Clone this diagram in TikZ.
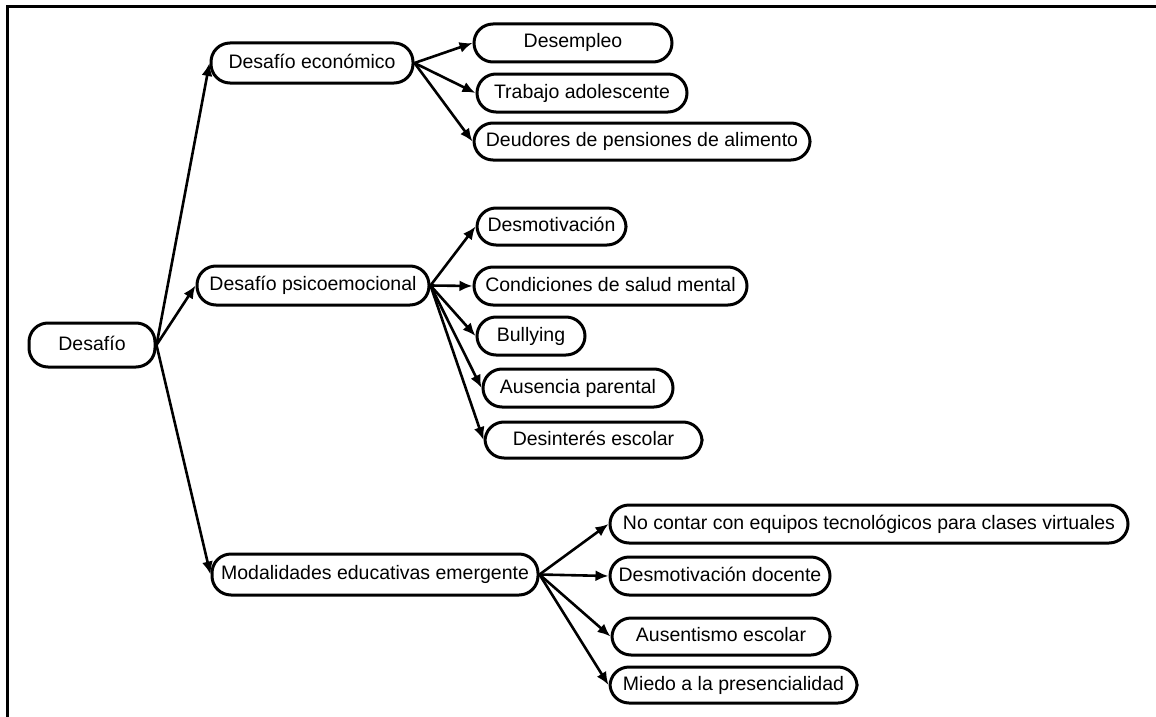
\documentclass[tikz,border=0pt]{standalone}
\usepackage{fontspec}
\setmainfont{Liberation Sans}
\usetikzlibrary{arrows.meta}
\tikzset{
  box/.style={draw, line width=3pt, rounded corners=19pt, minimum height=39pt,
    inner sep=0pt, text height=14pt, text depth=4pt,
    font=\fontsize{19.5}{22}\selectfont, fill=white},
  arr/.style={line width=2.6pt, -{Latex[length=13pt,width=11pt]}},
  frame/.style={line width=3pt}
}
\begin{document}
\begin{tikzpicture}[x=1pt,y=-1pt]
\useasboundingbox (0,0) rectangle (1156,717);
\coordinate (fa) at (7,717);
\coordinate (fb) at (7,7);
\coordinate (fc) at (1156,7);
\draw[frame] (fa) -- (fb) -- (fc);

\node[box, minimum width=126pt, minimum height=44pt] (root) at (92,345) {Desafío};

\node[box, minimum width=202pt, minimum height=40pt] (e1) at (312,63) {Desafío económico};
\node[box, minimum width=232pt] (e2) at (313,285.5) {Desafío psicoemocional};
\node[box, minimum width=326pt, minimum height=41pt] (e3) at (375,574.5) {Modalidades educativas emergente};

\node[box, minimum width=198pt, minimum height=38pt] (a1) at (573,43) {Desempleo};
\node[box, minimum width=210pt, minimum height=38pt] (a2) at (582,93) {Trabajo adolescente};
\node[box, minimum width=336pt, minimum height=37pt] (a3) at (642,141.5) {Deudores de pensiones de alimento};

\node[box, minimum width=149pt, minimum height=37pt] (b1) at (551.5,226.5) {Desmotivación};
\node[box, minimum width=273pt, minimum height=38pt] (b2) at (610.5,286) {Condiciones de salud mental};
\node[box, minimum width=108pt, minimum height=38pt] (b3) at (531,336) {Bullying};
\node[box, minimum width=190pt, minimum height=38pt] (b4) at (578,388) {Ausencia parental};
\node[box, minimum width=217pt, minimum height=36pt] (b5) at (593.5,440) {Desinterés escolar};

\node[box, minimum width=518pt, minimum height=38pt] (c1) at (869,524) {No contar con equipos tecnológicos para clases virtuales};
\node[box, minimum width=220pt, minimum height=38pt] (c2) at (720,576) {Desmotivación docente};
\node[box, minimum width=218pt, minimum height=37pt] (c3) at (721,636.5) {Ausentismo escolar};
\node[box, minimum width=247pt, minimum height=36pt] (c4) at (733.5,685) {Miedo a la presencialidad};

\draw[arr] (root.east) -- (e1.west);
\draw[arr] (root.east) -- (e2.west);
\draw[arr] (root.east) -- (e3.west);

\draw[arr] (e1.east) -- (a1.west);
\draw[arr] (e1.east) -- (a2.west);
\draw[arr] (e1.east) -- (a3.west);

\draw[arr] (e2.east) -- (b1.west);
\draw[arr] (e2.east) -- (b2.west);
\draw[arr] (e2.east) -- (b3.west);
\draw[arr] (e2.east) -- (b4.west);
\draw[arr] (e2.east) -- (b5.west);

\draw[arr] (e3.east) -- (c1.west);
\draw[arr] (e3.east) -- (c2.west);
\draw[arr] (e3.east) -- (c3.west);
\draw[arr] (e3.east) -- (c4.west);
\end{tikzpicture}
\end{document}
